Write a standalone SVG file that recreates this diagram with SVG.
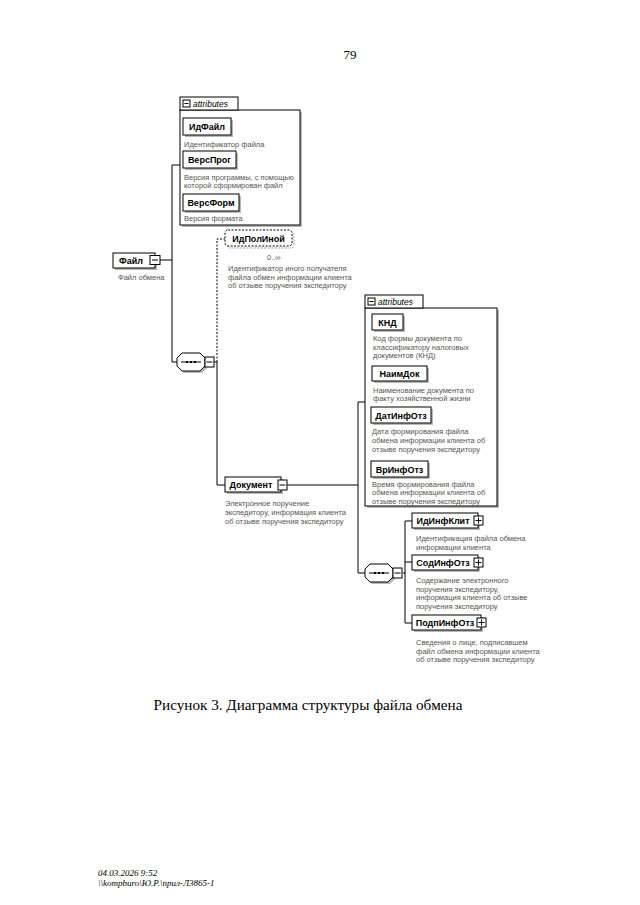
<svg xmlns="http://www.w3.org/2000/svg" width="640" height="905" viewBox="0 0 640 905">
<style>
.bx{fill:#fff;stroke:#000;stroke-width:1}
.sh{fill:#b8b8b8}
.dsh{fill:#fff;stroke:#999;stroke-width:1;stroke-dasharray:2 1.5}
.dbx{fill:#fff;stroke:#000;stroke-width:1;stroke-dasharray:2 1.5}
.lbl{font-family:"Liberation Sans",Arial,sans-serif;font-weight:bold;font-size:9px;fill:#000;text-anchor:middle}
.desc{font-family:"Liberation Sans",Arial,sans-serif;font-size:7.5px;fill:#555}
.tab{font-family:"Liberation Sans",Arial,sans-serif;font-style:italic;font-size:8.5px;fill:#000}
.ic{fill:#fff;stroke:#000;stroke-width:1}
.con{fill:none;stroke:#000;stroke-width:1}
.dcon{fill:none;stroke:#000;stroke-width:1;stroke-dasharray:2 1.5}
.page{font-family:"Liberation Serif","Times New Roman",serif;fill:#000}
</style>
<rect x="0" y="0" width="640" height="905" fill="#fff"/>
<text class="page" x="350" y="59" font-size="13" text-anchor="middle">79</text>

<g id="connectors">
<path class="con" d="M160,260 H172 M172,165 V362 M172,165 H180 M172,362 H177 M214,362 H217 V485 H225"/>
<path class="dcon" d="M217,362 V239 H225"/>
<path class="con" d="M287,485 H358 M358,402 V573 M358,402 H365 M358,573 H365 M403,573 H405 M405,521 V623 M405,521 H412 M405,562 H412 M405,623 H412"/>
</g>

<g id="attributes1">
<rect class="sh" x="182" y="112" width="120" height="115"/>
<rect class="bx" x="180" y="110" width="120" height="115"/>
<rect class="bx" x="180" y="97" width="58" height="13"/>
<rect class="ic" x="183" y="100" width="7" height="7"/>
<path class="con" d="M184.5,103.5 H188.5"/>
<text class="tab" x="193" y="107">attributes</text>
</g>
<g id="n-IdFail">
<rect class="sh" x="185" y="120" width="48" height="17"/>
<rect class="bx" x="183" y="118" width="48" height="17"/>
<text class="lbl" x="207" y="130">ИдФайл</text>
<text class="desc" x="184" y="146.5">Идентификатор файла</text>
</g>
<g id="n-VersProg">
<rect class="sh" x="185" y="153" width="53" height="17"/>
<rect class="bx" x="183" y="151" width="53" height="17"/>
<text class="lbl" x="209.5" y="163">ВерсПрог</text>
<text class="desc" x="184" y="179.5">Версия программы, с помощью</text>
<text class="desc" x="184" y="187.5">которой сформирован файл</text>
</g>
<g id="n-VersForm">
<rect class="sh" x="185" y="196" width="56" height="17"/>
<rect class="bx" x="183" y="194" width="56" height="17"/>
<text class="lbl" x="211" y="206">ВерсФорм</text>
<text class="desc" x="184" y="220.5">Версия формата</text>
</g>

<g id="n-Fail">
<rect class="sh" x="115" y="255" width="42" height="15"/>
<rect class="bx" x="113" y="253" width="42" height="15"/>
<rect class="ic" x="150" y="255.5" width="10" height="9"/>
<path class="con" d="M152,260 H158"/>
<text class="lbl" x="131" y="264">Файл</text>
<text class="desc" x="118" y="280">Файл обмена</text>
</g>

<g id="n-IdPolInoy">
<rect class="dsh" x="227" y="232" width="67" height="16" rx="3"/>
<rect class="dbx" x="225" y="230" width="67" height="16" rx="3"/>
<text class="lbl" x="258.5" y="241.5">ИдПолИной</text>
<text class="desc" x="267" y="260" font-size="8">0..∞</text>
<text class="desc" x="228" y="271">Идентификатор иного получателя</text>
<text class="desc" x="228" y="279.5">файла обмен информации клиента</text>
<text class="desc" x="228" y="288">об отзыве поручения экспедитору</text>
</g>

<g id="seq1">
<polygon class="sh" points="184,355 202,355 207,360 207,368 202,373 184,373 179,368 179,360"/>
<polygon class="bx" points="182,353 200,353 205,358 205,366 200,371 182,371 177,366 177,358"/>
<path class="con" d="M181,362 H201"/>
<rect x="186" y="361" width="2" height="2"/><rect x="190" y="361" width="2" height="2"/><rect x="194" y="361" width="2" height="2"/>
<rect class="ic" x="205" y="357" width="9" height="10"/>
<path class="con" d="M206.5,362 H212.5"/>
</g>

<g id="n-Dokument">
<rect class="sh" x="227" y="479" width="56" height="15"/>
<rect class="bx" x="225" y="477" width="56" height="15"/>
<rect class="ic" x="278" y="480" width="9" height="10"/>
<path class="con" d="M279.5,485 H285.5"/>
<text class="lbl" x="251" y="488">Документ</text>
<text class="desc" x="225" y="506">Электронное поручение</text>
<text class="desc" x="225" y="515">экспедитору, информация клиента</text>
<text class="desc" x="225" y="524">об отзыве поручения экспедитору</text>
</g>

<g id="attributes2">
<rect class="sh" x="367" y="310" width="132" height="198"/>
<rect class="bx" x="365" y="308" width="132" height="198"/>
<rect class="bx" x="365" y="295" width="58" height="13"/>
<rect class="ic" x="368" y="298" width="7" height="7"/>
<path class="con" d="M369.5,301.5 H373.5"/>
<text class="tab" x="378" y="305">attributes</text>
</g>
<g id="n-KND">
<rect class="sh" x="374" y="316" width="31" height="16"/>
<rect class="bx" x="372" y="314" width="31" height="16"/>
<text class="lbl" x="387.5" y="325.5">КНД</text>
<text class="desc" x="373" y="341">Код формы документа по</text>
<text class="desc" x="373" y="349.5">классификатору налоговых</text>
<text class="desc" x="373" y="358">документов (КНД)</text>
</g>
<g id="n-NaimDok">
<rect class="sh" x="374" y="368" width="55" height="15"/>
<rect class="bx" x="372" y="366" width="55" height="15"/>
<text class="lbl" x="399.5" y="377">НаимДок</text>
<text class="desc" x="373" y="392.5">Наименование документа по</text>
<text class="desc" x="373" y="401">факту хозяйственной жизни</text>
</g>
<g id="n-DatInfOtz">
<rect class="sh" x="373" y="409" width="60" height="16"/>
<rect class="bx" x="371" y="407" width="60" height="16"/>
<text class="lbl" x="401" y="418.5">ДатИнфОтз</text>
<text class="desc" x="372" y="434">Дата формирования файла</text>
<text class="desc" x="372" y="443">обмена информации клиента об</text>
<text class="desc" x="372" y="452">отзыве поручения экспедитору</text>
</g>
<g id="n-VrInfOtz">
<rect class="sh" x="373" y="463" width="57" height="16"/>
<rect class="bx" x="371" y="461" width="57" height="16"/>
<text class="lbl" x="399.5" y="472.5">ВрИнфОтз</text>
<text class="desc" x="372" y="486.5">Время формирования файла</text>
<text class="desc" x="372" y="495">обмена информации клиента об</text>
<text class="desc" x="372" y="503.5">отзыве поручения экспедитору</text>
</g>

<g id="seq2">
<polygon class="sh" points="372,566 390,566 395,571 395,579 390,584 372,584 367,579 367,571"/>
<polygon class="bx" points="370,564 388,564 393,569 393,577 388,582 370,582 365,577 365,569"/>
<path class="con" d="M369,573 H389"/>
<rect x="374" y="572" width="2" height="2"/><rect x="378" y="572" width="2" height="2"/><rect x="382" y="572" width="2" height="2"/>
<rect class="ic" x="393" y="568" width="9" height="10"/>
<path class="con" d="M394.5,573 H400.5"/>
</g>

<g id="n-IdInfKlit">
<rect class="sh" x="414" y="515" width="66" height="15"/>
<rect class="bx" x="412" y="513" width="66" height="15"/>
<rect class="ic" x="474" y="516" width="9" height="9"/>
<path class="con" d="M475.5,520.5 H481.5 M478.5,517.5 V523.5"/>
<text class="lbl" x="443" y="524">ИдИнфКлит</text>
<text class="desc" x="416" y="541">Идентификация файла обмена</text>
<text class="desc" x="416" y="549.5">информации клиента</text>
</g>
<g id="n-SodInfOtz">
<rect class="sh" x="414" y="557" width="66" height="15"/>
<rect class="bx" x="412" y="555" width="66" height="15"/>
<rect class="ic" x="474" y="558" width="9" height="9"/>
<path class="con" d="M475.5,562.5 H481.5 M478.5,559.5 V565.5"/>
<text class="lbl" x="443" y="566">СодИнфОтз</text>
<text class="desc" x="416" y="583">Содержание электронного</text>
<text class="desc" x="416" y="591.5">поручения экспедитору,</text>
<text class="desc" x="416" y="600">информация клиента об отзыве</text>
<text class="desc" x="416" y="608.5">поручения экспедитору</text>
</g>
<g id="n-PodpInfOtz">
<rect class="sh" x="414" y="617" width="69" height="15"/>
<rect class="bx" x="412" y="615" width="69" height="15"/>
<rect class="ic" x="477" y="618" width="9" height="9"/>
<path class="con" d="M478.5,622.5 H484.5 M481.5,619.5 V625.5"/>
<text class="lbl" x="445" y="626">ПодпИнфОтз</text>
<text class="desc" x="416" y="645">Сведения о лице, подписавшем</text>
<text class="desc" x="416" y="653.5">файл обмена информации клиента</text>
<text class="desc" x="416" y="662">об отзыве поручения экспедитору</text>
</g>

<text class="page" x="308" y="710" font-size="15.2" text-anchor="middle">Рисунок 3. Диаграмма структуры файла обмена</text>
<text class="page" x="98" y="876" font-size="9" font-style="italic">04.03.2026 9:52</text>
<text class="page" x="98" y="886" font-size="9" font-style="italic">\\kompburo\Ю.Р.\прил-Л3865-1</text>
</svg>
